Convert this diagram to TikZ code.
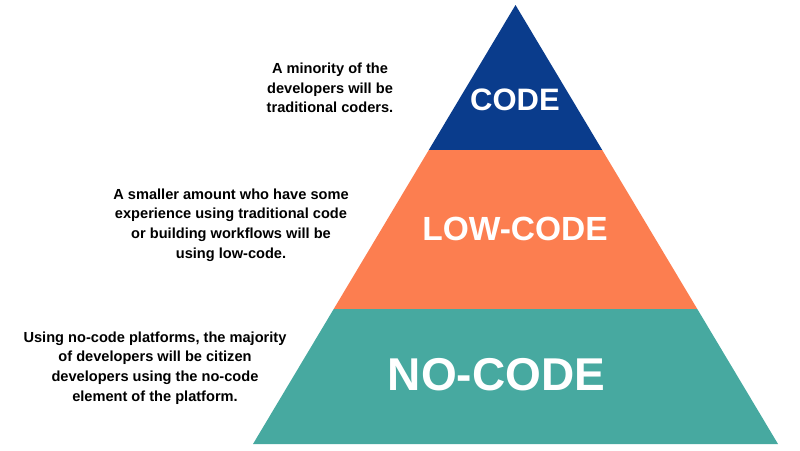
\documentclass[tikz,border=0pt]{standalone}
\usepackage{fontspec}
\setmainfont{Liberation Sans}
\usetikzlibrary{calc}

\definecolor{codeblue}{HTML}{0A3C8C}
\definecolor{loworange}{HTML}{FC7E50}
\definecolor{noteal}{HTML}{47A9A0}

\tikzset{
	layerlabel/.style={text=white, inner sep=0pt},
	note/.style={align=center, inner sep=0pt, font=\bfseries\fontsize{14.6}{19.6}\selectfont}
}

\begin{document}
\begin{tikzpicture}[x=1pt, y=-1pt]

	%page of 800 x 450, y runs downwards
	\useasboundingbox (0,0) rectangle (800,450);

	%corners of the whole pyramid
	\coordinate (apex) at (515.5,5);
	\coordinate (bl) at (253,444);
	\coordinate (br) at (778,444);

	%layers, top to bottom: part of the height where each starts and stops
	\foreach \layer/\from/\to/\col in {code/0/0.3303/codeblue, low/0.3303/0.6925/loworange, no/0.6925/1/noteal}
   {
		\fill [\col] ($(apex)!\from!(bl)$) -- ($(apex)!\to!(bl)$) -- ($(apex)!\to!(br)$) -- ($(apex)!\from!(br)$) -- cycle;
   }

	%layer names
	\node [layerlabel, font=\bfseries\fontsize{31}{31}\selectfont] (code) at (515,99.5) {CODE};
	\node [layerlabel, font=\bfseries\fontsize{33.5}{33.5}\selectfont] (lowcode) at (515,228.5) {LOW-CODE};
	\node [layerlabel, font=\bfseries\fontsize{46}{46}\selectfont] (nocode) at (496.5,374.5) {NO-CODE};

	%notes on the left
	\node [note] (codenote) at (330,88) {A minority of the\\developers will be\\traditional coders.};
	\node [note] (lownote) at (231,225) {A smaller amount who have some\\experience using traditional code\\or building workflows will be\\using low-code.};
	\node [note] (nonote) at (155,368) {Using no-code platforms, the majority\\of developers will be citizen\\developers using the no-code\\element of the platform.};

\end{tikzpicture}
\end{document}
